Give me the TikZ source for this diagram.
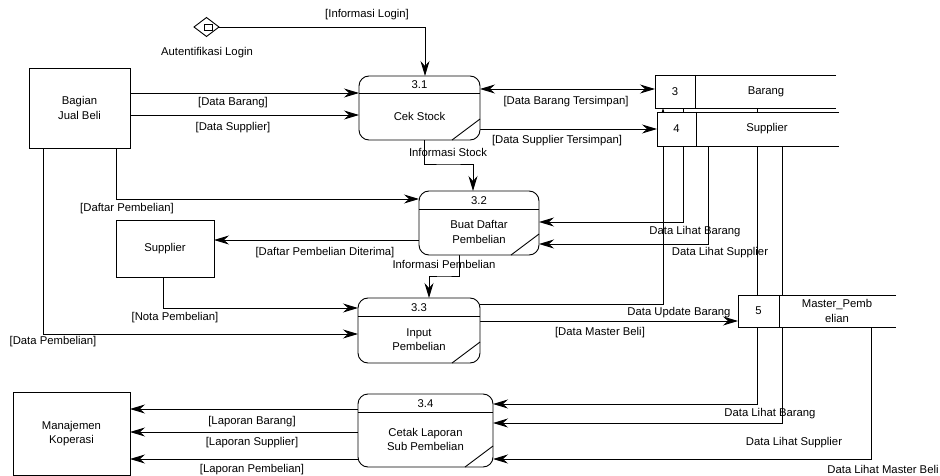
\documentclass[tikz,border=0pt]{standalone}
\usepackage{fontspec}
\setmainfont{Liberation Sans}
\usetikzlibrary{arrows.meta,shapes.geometric,backgrounds}
\newcommand\dfdbox[6]{% name, x1,y1,x2,y2, text
  \node[ent, minimum width={#4-#2}, minimum height={#5-#3}] (#1) at ({(#2+#4)/2},{(#3+#5)/2}) {#6};}
\newcommand\dfdproc[8]{% name,x1,y1,x2,y2,divY,num,text
  \node[proc, minimum width={#4-#2}, minimum height={#5-#3}] (#1) at ({(#2+#4)/2},{(#3+#5)/2}) {};
  \draw[ln] (#1.west |- 0,#6) -- (#1.east |- 0,#6);
  \draw[ln] ({#4-28},#5) -- (#4,{#5-21});
  \node (#1n) at ({(#2+#4)/2},{(#3+#6)/2+0.5}) {#7};
  \node (#1t) at ({(#2+#4)/2},{(#6+#5)/2}) {#8};}
\newcommand\dfdstore[9]{% name,x1,y1,x2,y2,divX,num,text,textX
  \node[store, minimum width={#4-#2}, minimum height={#5-#3}] (#1) at ({(#2+#4)/2},{(#3+#5)/2}) {};
  \draw[ln] (#1.north east) -- (#1.north west) -- (#1.south west) -- (#1.south east);
  \draw[ln] (#1.north -| #6,0) -- (#1.south -| #6,0);
  \node (#1n) at ({(#2+#6)/2},{(#3+#5)/2}) {#7};
  \node (#1t) at (#9,{(#3+#5)/2}) {#8};}
\begin{document}
\begin{tikzpicture}[x=1pt,y=-1pt,
  every node/.style={font=\fontsize{11.3}{14.5}\selectfont, inner sep=0pt, outer sep=0pt, align=center},
  ln/.style={line width=0.9pt, draw=black},
  ent/.style={draw=black, line width=0.9pt, fill=white, rectangle},
  proc/.style={draw=black, line width=0.9pt, fill=white, rectangle, rounded corners=10pt},
  store/.style={fill=white, rectangle},
  >={Stealth[length=15pt,width=9pt,inset=5pt]},
  flow/.style={line width=0.9pt, draw=black, ->},
  flowb/.style={line width=0.9pt, draw=black, <->},
  lbl/.style={}
]
\useasboundingbox (0,0) rectangle (940,476);

% external entities
\dfdbox{bjb}{29}{68}{130}{148}{Bagian\\Jual Beli}
\dfdbox{sup}{116}{220}{214}{277}{Supplier}
\dfdbox{mk}{13}{392}{130}{475}{Manajemen\\Koperasi}

% login diamond
\node[diamond, draw=black, line width=0.9pt, fill=white, minimum width=25pt, minimum height=19pt] (auth) at (206.5,27) {};
\node[draw=black, line width=0.6pt, minimum width=8pt, minimum height=6pt] (authr) at (208,27) {};

% processes
\dfdproc{p31}{359}{76}{480}{140}{93}{3.1}{Cek Stock}
\dfdproc{p32}{419}{191}{539}{255}{209}{3.2}{Buat Daftar\\Pembelian}
\dfdproc{p33}{358}{298}{480}{363}{316}{3.3}{Input\\Pembelian}
\dfdproc{p34}{358}{394}{493}{467}{412}{3.4}{Cetak Laporan\\Sub Pembelian}

% data stores
\dfdstore{s3}{655}{75}{836}{108}{695}{3}{Barang}{766}
\dfdstore{s4}{657}{112}{839}{146}{696}{4}{Supplier}{767}
\dfdstore{s5}{738}{295}{896}{327}{779}{5}{Master\_Pemb\\elian}{837}

% labels
\node[lbl] (lInfoLogin) at (367,15) {[Informasi Login]};
\node[lbl] (lAuth) at (207,53) {Autentifikasi Login};
\node[lbl] (lDB) at (233,103) {[Data Barang]};
\node[lbl] (lDS) at (233,128) {[Data Supplier]};
\node[lbl] (lDBT) at (566,102) {[Data Barang Tersimpan]};
\node[lbl] (lDST) at (557,141) {[Data Supplier Tersimpan]};
\node[lbl] (lIS) at (448,152) {Informasi Stock};
\node[lbl] (lDP) at (127,209) {[Daftar Pembelian]};
\node[lbl] (lDPD) at (325,253) {[Daftar Pembelian Diterima]};
\node[lbl] (lIP) at (444,264) {Informasi Pembelian};
\node[lbl] (lNP) at (175,318) {[Nota Pembelian]};
\node[lbl] (lDPem) at (53,342) {[Data Pembelian]};
\node[lbl] (lDUB) at (679,313) {Data Update Barang};
\node[lbl] (lDMB) at (600,333) {[Data Master Beli]};
\node[lbl] (lDLB1) at (695,232) {Data Lihat Barang};
\node[lbl] (lDLS1) at (720,253) {Data Lihat Supplier};
\node[lbl] (lDLB2) at (770,414) {Data Lihat Barang};
\node[lbl] (lDLS2) at (794,443) {Data Lihat Supplier};
\node[lbl] (lDLMB) at (883,469) {Data Lihat Master Beli};
\node[lbl] (lLB) at (252,422) {[Laporan Barang]};
\node[lbl] (lLS) at (252,443) {[Laporan Supplier]};
\node[lbl] (lLP) at (252,470) {[Laporan Pembelian]};

\begin{pgfonlayer}{background}
% login
\draw[flow] (auth.east) -| (p31.north -| 425,0);
% Bagian -> 3.1
\draw[flow] (bjb.east |- 0,93) -- (p31.west |- 0,93);
\draw[flow] (bjb.east |- 0,115) -- (p31.west |- 0,115);
% 3.1 <-> stores
\draw[flowb] (p31.east |- 0,89) -- (s3.west |- 0,89);
\draw[flow] (p31.east |- 0,129) -- (s4.west |- 0,129);
% 3.1 -> 3.2
\draw[flow] (p31.south -| 424,0) |- (448,164) -| (p32.north -| 473,0);
% Bagian -> 3.2
\draw[flow] (bjb.south -| 116,0) |- (p32.west |- 0,199);
% 3.2 -> Supplier
\draw[flow] (p32.west |- 0,240) -- (sup.east |- 0,240);
% 3.2 -> 3.3
\draw[flow] (p32.south -| 459,0) |- (444,276) -| (p33.north -| 429,0);
% Supplier -> 3.3
\draw[flow] (sup.south -| 163,0) |- (p33.west |- 0,308);
% Bagian -> 3.3
\draw[flow] (bjb.south -| 43,0) |- (p33.west |- 0,334);
% 3.3 -> store 3
\draw[flow] (p33.east |- 0,304) -| (s3.south -| 663,0);
% 3.3 -> store 5
\draw[flow] (p33.east |- 0,321) -- (s5.west |- 0,321);
% stores -> 3.2
\draw[flow] (s3.south -| 683,0) |- (p32.east |- 0,222);
\draw[flow] (s4.south -| 708,0) |- (p32.east |- 0,244);
% stores -> 3.4
\draw[flow] (s3.south -| 757,0) |- (p34.east |- 0,404);
\draw[flow] (s4.south -| 782,0) |- (p34.east |- 0,423);
\draw[flow] (s5.south -| 871,0) |- (p34.east |- 0,459);
% 3.4 -> Manajemen
\draw[flow] (p34.west |- 0,409) -- (mk.east |- 0,409);
\draw[flow] (p34.west |- 0,432) -- (mk.east |- 0,432);
\draw[flow] (p34.west |- 0,459) -- (mk.east |- 0,459);
\end{pgfonlayer}
\end{tikzpicture}
\end{document}
